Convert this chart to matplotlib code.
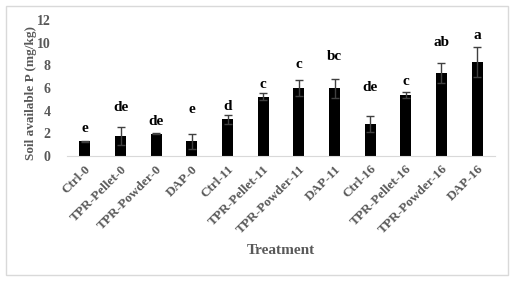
import matplotlib.pyplot as plt
from matplotlib.patches import Rectangle

# Datos
tratamientos = ["Ctrl-0", "TPR-Pellet-0", "TPR-Powder-0", "DAP-0",
                "Ctrl-11", "TPR-Pellet-11", "TPR-Powder-11", "DAP-11",
                "Ctrl-16", "TPR-Pellet-16", "TPR-Powder-16", "DAP-16"]
medias = [1.3, 1.75, 1.97, 1.3, 3.25, 5.25, 5.97, 5.97, 2.8, 5.38, 7.3, 8.3]
errores = [0.05, 0.8, 0.05, 0.67, 0.4, 0.35, 0.7, 0.85, 0.7, 0.24, 0.9, 1.35]
letras = ["e", "de", "de", "e", "d", "c", "c", "bc", "de", "c", "ab", "a"]
altura_letras = [2.4, 4.3, 3.03, 4.06, 4.4, 6.35, 8.03, 8.77, 6.06, 6.56, 10.0, 10.6]

plt.rcParams['font.family'] = ['Liberation Serif', 'DejaVu Serif']
gris = '#595959'

fig = plt.figure(figsize=(5.14, 2.84), dpi=100)
fig.patches.append(Rectangle((6 / 514, 9 / 284), 502 / 514, 269 / 284,
                             transform=fig.transFigure, fill=False,
                             edgecolor='#d9d9d9', linewidth=1))
ax = fig.add_axes([67 / 514, 1 - 156 / 284, 428 / 514, 136 / 284])

x = range(len(tratamientos))
ax.bar(x, medias, width=0.31, color='black', zorder=2)
ax.errorbar(x, medias, yerr=errores, fmt='none', ecolor='#404040',
            elinewidth=1, capsize=3, capthick=1, zorder=3)

for i, (letra, h) in enumerate(zip(letras, altura_letras)):
    ax.text(i, h, letra, ha='center', va='center', fontsize=11,
            fontweight='bold', color='black')

ax.set_xlim(-0.5, len(tratamientos) - 0.5)
ax.set_ylim(0, 12)
ax.set_yticks(range(0, 13, 2))
ax.set_xticks(list(x))
ax.set_xticklabels(tratamientos, rotation=45, ha='right', rotation_mode='anchor',
                   fontsize=9.5, fontweight='bold', color=gris)
for t in ax.get_yticklabels():
    t.set_fontweight('bold')
    t.set_color(gris)
    t.set_fontsize(10)
ax.tick_params(axis='both', length=0)
ax.tick_params(axis='y', pad=12)
ax.tick_params(axis='x', pad=5)

for lado in ['top', 'right', 'left']:
    ax.spines[lado].set_visible(False)
ax.spines['bottom'].set_color('#d9d9d9')

ax.set_ylabel("Soil available P (mg/kg)", fontsize=9.5, fontweight='bold', color=gris)
ax.yaxis.set_label_coords(-0.07, 0.46)
ax.set_xlabel("Treatment", fontsize=11, fontweight='bold', color=gris)
ax.xaxis.set_label_coords(0.5, -0.65)

plt.savefig("out.png", dpi=100)
plt.close()
